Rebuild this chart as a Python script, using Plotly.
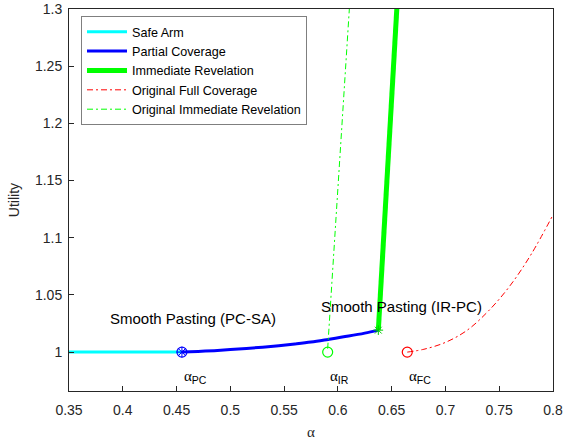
import plotly.graph_objects as go

# ---- data ----
safe_x = [0.35, 0.455]
safe_y = [1.0, 1.0]

pc_x = [0.455, 0.47, 0.485, 0.50, 0.515, 0.53, 0.545, 0.56, 0.575, 0.591, 0.61, 0.625, 0.6376]
pc_y = [1.0, 1.0006, 1.0013, 1.0022, 1.0032, 1.0043, 1.0056, 1.0071, 1.0088, 1.0111, 1.0140, 1.0166, 1.0192]

ir_x = [0.6376, 0.641, 0.645, 0.650, 0.6547, 0.656]
ir_y = [1.0192, 1.076, 1.146, 1.226, 1.30, 1.32]

ofc_x = [0.6645, 0.68, 0.70, 0.72, 0.74, 0.76, 0.78, 0.80]
ofc_y = [1.0, 1.0025, 1.0085, 1.019, 1.036, 1.058, 1.086, 1.12]

oir_x = [0.5905, 0.60, 0.6106, 0.612]
oir_y = [1.003, 1.14, 1.30, 1.32]

alpha_pc = 0.455
alpha_ir = 0.5905
alpha_fc = 0.6645
junction = (0.6376, 1.0192)

x_ticks = [0.35, 0.4, 0.45, 0.5, 0.55, 0.6, 0.65, 0.7, 0.75, 0.8]
y_ticks = [1.0, 1.05, 1.1, 1.15, 1.2, 1.25, 1.3]

SANS = "Liberation Sans, Arial, sans-serif"
SERIF = "Liberation Serif, DejaVu Serif, serif"
AX = "#262626"

fig = go.Figure()
fig.add_trace(go.Scatter(x=safe_x, y=safe_y, mode="lines", name="Safe Arm",
                         line=dict(color="#00FFFF", width=3)))
fig.add_trace(go.Scatter(x=pc_x, y=pc_y, mode="lines", name="Partial Coverage",
                         line=dict(color="#0000FF", width=3, shape="spline")))
fig.add_trace(go.Scatter(x=ir_x, y=ir_y, mode="lines", name="Immediate Revelation",
                         line=dict(color="#00FF00", width=5)))
fig.add_trace(go.Scatter(x=ofc_x, y=ofc_y, mode="lines", name="Original Full Coverage",
                         line=dict(color="#FF0000", width=1, dash="6px,3px,2px,3px", shape="spline")))
fig.add_trace(go.Scatter(x=oir_x, y=oir_y, mode="lines", name="Original Immediate Revelation",
                         line=dict(color="#00FF00", width=1, dash="6px,3px,2px,3px")))

# markers
fig.add_trace(go.Scatter(x=[alpha_pc], y=[1.0], mode="markers", showlegend=False,
                         marker=dict(symbol="circle-open", size=10, color="#0000FF", line=dict(width=1.2))))
fig.add_trace(go.Scatter(x=[alpha_pc], y=[1.0], mode="markers", showlegend=False,
                         marker=dict(symbol="asterisk-open", size=9, color="#0000FF", line=dict(width=1, color="#0000FF"))))
fig.add_trace(go.Scatter(x=[junction[0]], y=[junction[1]], mode="markers", showlegend=False,
                         marker=dict(symbol="asterisk-open", size=8, color="#00CC00", line=dict(width=1, color="#00CC00"))))
fig.add_trace(go.Scatter(x=[alpha_ir], y=[1.0], mode="markers", showlegend=False,
                         marker=dict(symbol="circle-open", size=10, color="#00FF00", line=dict(width=1.2, color="#00FF00"))))
fig.add_trace(go.Scatter(x=[alpha_fc], y=[1.0], mode="markers", showlegend=False,
                         marker=dict(symbol="circle-open", size=10, color="#FF0000", line=dict(width=1.2, color="#FF0000"))))

def alpha_label(sub):
    return f"<span style=\"font-family:{SERIF}\">α</span><sub>{sub}</sub>"

annots = [
    dict(x=0.4653, y=1.0295, text="Smooth Pasting (PC-SA)", xanchor="center", yanchor="middle",
         font=dict(size=15, color="#000000", family=SANS)),
    dict(x=0.6591, y=1.0395, text="Smooth Pasting (IR-PC)", xanchor="center", yanchor="middle",
         font=dict(size=15, color="#000000", family=SANS)),
    dict(x=alpha_pc, y=0.9785, text=alpha_label("PC"), xanchor="left", yanchor="middle",
         font=dict(size=15, color="#000000", family=SANS)),
    dict(x=alpha_ir, y=0.9785, text=alpha_label("IR"), xanchor="left", yanchor="middle",
         font=dict(size=15, color="#000000", family=SANS)),
    dict(x=alpha_fc, y=0.9785, text=alpha_label("FC"), xanchor="left", yanchor="middle",
         font=dict(size=15, color="#000000", family=SANS)),
]
for a in annots:
    a.update(showarrow=False, xref="x", yref="y")

fig.update_layout(
    width=565, height=440,
    margin=dict(l=69, r=12, t=9, b=49),
    paper_bgcolor="white", plot_bgcolor="white",
    font=dict(family=SANS, color=AX),
    annotations=annots,
    legend=dict(x=0.0248, y=0.9817, xanchor="left", yanchor="top",
                bgcolor="white", bordercolor="#7f7f7f", borderwidth=1,
                font=dict(size=12.6, color="#000000", family=SANS),
                tracegroupgap=0, itemwidth=40),
    xaxis=dict(range=[0.35, 0.8], tickvals=x_ticks, ticktext=[f"{v:g}" for v in x_ticks],
               showgrid=False, zeroline=False, showline=True, linecolor=AX, linewidth=1,
               mirror=True, ticks="inside", ticklen=5, tickcolor=AX, ticklabelstandoff=6,
               automargin=False,
               tickfont=dict(size=14, color=AX, family=SANS),
               title=dict(text="α", font=dict(size=15, family=SERIF, color=AX), standoff=10)),
    yaxis=dict(range=[0.966, 1.3], tickvals=y_ticks, ticktext=[f"{v:g}" for v in y_ticks],
               showgrid=False, zeroline=False, showline=True, linecolor=AX, linewidth=1,
               mirror=True, ticks="inside", ticklen=5, tickcolor=AX, ticklabelstandoff=3,
               automargin=False,
               tickfont=dict(size=14, color=AX, family=SANS),
               title=dict(text="Utility", font=dict(size=14, family=SANS, color=AX), standoff=12)),
)

fig.write_html("out.html", config={"displayModeBar": False},
               post_script="document.body.style.margin='0px';")
